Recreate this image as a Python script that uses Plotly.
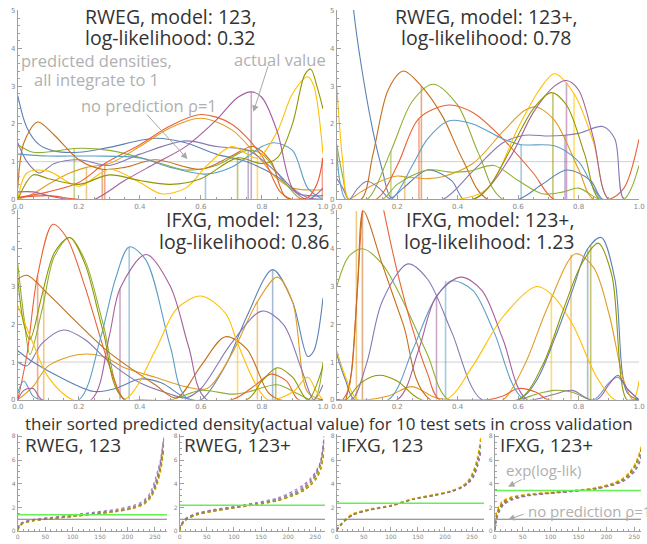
import plotly.graph_objects as go

W, H = 647, 544

PALETTE = ["#5E81B5", "#E19C24", "#8FB032", "#EB6235", "#8778B3", "#C56E1A",
           "#5D9EC7", "#FFBF00", "#A5609D", "#929600", "#E95536"]

# ---------------- predicted densities: RWEG, model 123 ----------------
TL_X = [
    [0, 0.03, 0.07, 0.12, 0.2, 0.3, 0.45, 0.55, 0.65, 0.75, 0.85, 0.92, 1.0],
    [0, 0.05, 0.1, 0.17, 0.225, 0.3, 0.4, 0.5, 0.6, 0.7, 0.78, 0.85, 0.9, 1.0],
    [0, 0.05, 0.12, 0.185, 0.3, 0.45, 0.55, 0.65, 0.75, 0.8, 0.87, 0.93, 1.0],
    [0, 0.1, 0.2, 0.285, 0.4, 0.5, 0.6, 0.7, 0.8, 0.86, 0.9, 1.0],
    [0, 0.03, 0.07, 0.12, 0.2, 0.3, 0.4, 0.55, 0.65, 0.755, 0.85, 0.9, 0.95, 1.0],
    [0, 0.02, 0.065, 0.12, 0.2, 0.277, 0.35, 0.45, 0.6, 0.7, 0.77, 0.83, 0.88, 1.0],
    [0, 0.1, 0.25, 0.4, 0.5, 0.615, 0.7, 0.8, 0.84, 0.9, 0.95, 1.0],
    [0, 0.03, 0.1, 0.2, 0.3, 0.4, 0.47, 0.55, 0.62, 0.7, 0.785, 0.85, 0.9, 0.95, 0.97, 1.0],
    [0, 0.05, 0.1, 0.15, 0.2, 0.25, 0.35, 0.45, 0.55, 0.65, 0.72, 0.765, 0.8, 0.85, 0.9, 0.95, 1.0],
    [0, 0.05, 0.1, 0.2, 0.3, 0.4, 0.5, 0.6, 0.72, 0.8, 0.85, 0.9, 0.94, 0.96, 0.98, 1.0],
    [0, 0.1, 0.2, 0.4, 0.6, 0.8, 0.9, 0.95, 0.98, 1.0],
]
TL_Y = [
    [2.75, 1.9, 1.45, 1.28, 1.25, 1.38, 1.62, 1.5, 1.2, 1.0, 0.6, 0.15, 0.1],
    [0.0, 0.15, 0.4, 0.7, 0.85, 0.95, 1.4, 1.9, 2.15, 1.85, 1.2, 0.55, 0.3, 0.25],
    [1.45, 1.25, 1.28, 1.35, 1.3, 1.0, 0.78, 0.9, 1.3, 1.2, 0.5, 0.0, 0.0],
    [0.05, 0.2, 0.45, 0.95, 1.45, 1.95, 2.25, 2.0, 1.15, 0.2, 0.0, 0.0],
    [1.5, 1.0, 0.7, 0.95, 1.05, 0.9, 1.2, 1.55, 1.4, 1.3, 0.7, 0.3, 0.05, 0.0],
    [0.3, 1.5, 2.05, 1.7, 1.05, 0.8, 0.85, 1.05, 0.8, 1.15, 1.4, 1.0, 0.05, 0.0],
    [1.2, 1.15, 1.15, 1.1, 0.85, 0.67, 0.85, 1.4, 1.5, 1.3, 0.3, 0.0],
    [0.0, 0.7, 0.75, 0.35, 0.8, 0.45, 0.15, 0.3, 0.9, 1.4, 1.1, 1.8, 2.8, 3.25, 3.0, 1.2],
    [0.2, 0.2, 0.1, 0.02, 0.0, 0.0, 0.5, 0.95, 1.4, 2.1, 2.7, 2.85, 2.7, 1.8, 0.3, 0.0, 0.3],
    [0.0, 0.65, 0.55, 0.4, 0.65, 0.5, 0.4, 0.55, 1.1, 0.95, 1.1, 2.0, 3.3, 3.45, 3.0, 2.4],
    [0.05, 0.1, 0.0, 0.0, 0.0, 0.0, 0.0, 0.05, 0.4, 1.1],
]
TL_C = [0, 1, 2, 3, 4, 5, 6, 7, 8, 9, 10]
TL_VX = [0.185, 0.225, 0.277, 0.285, 0.615, 0.72, 0.755, 0.765, 0.785, 0.998]
TL_VH = [1.35, 0.85, 0.8, 0.95, 0.67, 1.1, 1.3, 2.85, 1.1, 1.1]
TL_VC = [2, 1, 5, 3, 6, 9, 4, 8, 7, 10]

# ---------------- RWEG, model 123+ ----------------
TR_X = [
    [0.04, 0.056, 0.08, 0.12, 0.15, 0.18, 0.22, 0.3, 0.38, 0.42, 0.5, 0.6, 0.68, 0.76, 0.84, 0.88, 1.0],
    [0, 0.04, 0.08, 0.15, 0.2, 0.225, 0.3, 0.35, 0.45, 0.55, 0.62, 0.66, 0.72, 0.8, 0.85, 1.0],
    [0, 0.02, 0.04, 0.1, 0.179, 0.25, 0.32, 0.4, 0.47, 0.55, 1.0],
    [0, 0.13, 0.2, 0.272, 0.37, 0.45, 0.55, 0.65, 0.72, 0.9, 0.95, 1.0],
    [0, 0.02, 0.04, 0.07, 0.1, 0.14, 0.18, 0.35, 0.45, 0.55, 0.62, 0.7, 0.755, 0.8, 0.88, 0.92, 0.95, 1.0],
    [0, 0.08, 0.12, 0.17, 0.22, 0.28, 0.35, 0.42, 0.5, 1.0],
    [0, 0.01, 0.03, 0.1, 0.18, 0.25, 0.3, 0.37, 0.45, 0.55, 0.61, 0.72, 0.8, 0.88, 1.0],
    [0, 0.02, 0.04, 0.1, 0.4, 0.5, 0.6, 0.67, 0.72, 0.785, 0.85, 0.9, 1.0],
    [0, 0.45, 0.5, 0.58, 0.65, 0.72, 0.76, 0.8, 0.85, 0.9, 1.0],
    [0, 0.45, 0.5, 0.58, 0.65, 0.71, 0.76, 0.82, 0.87, 1.0],
    [0, 0.15, 0.2, 0.3, 0.38, 0.44, 0.52, 0.6, 0.68, 0.75, 0.8, 0.87, 0.95, 1.0],
]
TR_Y = [
    [6.5, 5.0, 3.6, 1.8, 0.8, 0.05, 0.3, 0.78, 0.5, 0.0, 0.0, 0.0, 0.4, 0.78, 0.5, 0.0, 0.0],
    [0.0, 0.0, 0.2, 0.5, 0.62, 0.6, 0.55, 0.6, 0.95, 1.8, 2.35, 2.45, 2.1, 0.8, 0.0, 0.0],
    [1.45, 0.6, 0.0, 0.0, 1.28, 2.6, 3.05, 2.5, 1.2, 0.0, 0.0],
    [0.0, 0.0, 0.9, 2.15, 2.5, 2.3, 1.6, 0.7, 0.0, 0.0, 0.3, 1.6],
    [0.55, 0.3, 0.0, 0.3, 0.48, 0.3, 0.0, 0.0, 0.75, 1.5, 1.7, 1.68, 1.7, 1.75, 1.93, 1.6, 0.0, 0.0],
    [0.0, 0.0, 1.2, 2.9, 3.4, 3.0, 2.2, 1.0, 0.0, 0.0],
    [1.3, 0.5, 0.0, 0.0, 0.0, 0.9, 1.6, 2.08, 2.0, 1.6, 1.45, 1.42, 1.0, 0.0, 0.0],
    [3.0, 1.0, 0.0, 0.0, 0.0, 0.3, 1.9, 2.9, 3.33, 2.8, 1.5, 0.0, 0.0],
    [0.0, 0.0, 0.3, 1.2, 2.3, 3.0, 3.15, 2.9, 1.6, 0.0, 0.0],
    [0.0, 0.0, 0.3, 1.4, 2.4, 2.83, 2.5, 1.2, 0.0, 0.0],
    [0.0, 0.0, 0.4, 0.78, 0.72, 0.75, 0.9, 0.5, 0.15, 0.2, 0.3, 0.0, 0.0, 0.9],
]
TR_C = [0, 1, 2, 3, 4, 5, 6, 7, 8, 9, 2]
TR_VX = [0.179, 0.225, 0.272, 0.28, 0.61, 0.715, 0.755, 0.76, 0.785]
TR_VH = [1.28, 0.6, 2.15, 3.0, 1.45, 2.8, 1.7, 3.1, 2.8]
TR_VC = [2, 1, 3, 5, 6, 9, 4, 8, 7]

# ---------------- IFXG, model 123 ----------------
ML_X = [
    [0, 0.05, 0.15, 0.25, 0.32, 0.4, 0.47, 0.55, 0.6, 0.68, 0.75, 0.835, 0.9, 0.95, 0.97, 1.0],
    [0, 0.05, 0.1, 0.2, 0.28, 0.35, 0.45, 0.55, 0.62, 0.7, 0.785, 0.85, 0.9, 0.95, 1.0],
    [0, 0.02, 0.04, 0.08, 0.12, 0.17, 0.22, 0.28, 0.35, 0.5, 0.6, 0.7, 0.75, 0.85, 0.92, 0.97, 1.0],
    [0, 0.03, 0.065, 0.115, 0.16, 0.22, 0.3, 0.35, 0.4, 0.7, 0.78, 0.83, 0.88, 0.92, 1.0],
    [0, 0.03, 0.08, 0.15, 0.22, 0.3, 0.4, 0.5, 0.55, 0.6, 0.7, 0.8, 0.87, 0.93, 0.97, 1.0],
    [0, 0.03, 0.1, 0.2, 0.3, 0.45, 0.52, 0.6, 0.68, 0.75, 0.82, 0.86, 1.0],
    [0, 0.02, 0.05, 0.08, 0.2, 0.27, 0.32, 0.365, 0.42, 0.5, 0.56, 1.0],
    [0, 0.05, 0.1, 0.18, 0.35, 0.45, 0.52, 0.6, 0.68, 0.72, 0.78, 0.82, 0.9, 0.95, 0.98, 1.0],
    [0, 0.02, 0.05, 0.08, 0.24, 0.3, 0.335, 0.42, 0.5, 0.56, 0.62, 1.0],
    [0, 0.02, 0.04, 0.08, 0.12, 0.17, 0.22, 0.28, 0.35, 0.75, 0.8, 0.85, 0.9, 0.95, 1.0],
]
ML_Y = [
    [1.3, 1.0, 0.55, 0.22, 0.3, 0.55, 0.45, 0.05, 0.0, 0.9, 2.2, 3.45, 2.6, 1.15, 1.3, 2.7],
    [0.0, 0.35, 0.9, 1.2, 1.15, 0.85, 0.6, 0.35, 0.3, 1.2, 2.6, 3.25, 2.6, 0.2, 0.0],
    [3.6, 2.2, 1.2, 2.4, 3.8, 4.3, 3.7, 2.0, 0.0, 0.0, 0.25, 0.15, 0.2, 0.4, 0.15, 0.0, 1.0],
    [0.0, 1.2, 3.3, 4.65, 4.3, 3.0, 0.9, 0.0, 0.0, 0.0, 0.4, 0.68, 0.5, 0.0, 0.0],
    [1.0, 0.9, 1.5, 1.85, 1.6, 1.0, 0.45, 0.15, 0.05, 0.3, 1.5, 2.35, 2.0, 0.8, 0.0, 0.4],
    [3.2, 3.3, 2.8, 2.0, 1.25, 0.4, 0.05, 0.9, 1.67, 1.35, 0.2, 0.0, 0.0],
    [0.2, 0.5, 0.1, 0.0, 0.0, 1.6, 3.2, 4.05, 3.7, 1.4, 0.0, 0.0],
    [2.5, 1.5, 0.6, 0.0, 0.0, 1.3, 2.4, 2.75, 2.3, 1.5, 0.4, 0.0, 0.2, 0.6, 0.2, 0.0],
    [0.0, 0.25, 0.3, 0.0, 0.0, 1.7, 2.95, 3.85, 3.0, 1.4, 0.0, 0.0],
    [3.2, 2.0, 1.6, 2.8, 3.9, 4.3, 3.6, 1.8, 0.0, 0.0, 0.5, 0.85, 0.6, 0.0, 0.9],
]
ML_C = [0, 1, 2, 3, 4, 5, 6, 7, 8, 9]
ML_VX = [0.065, 0.085, 0.335, 0.365, 0.72, 0.785, 0.835, 0.845]
ML_VH = [3.3, 2.9, 2.95, 4.05, 1.5, 2.6, 3.45, 0.85]
ML_VC = [3, 1, 8, 6, 7, 1, 0, 9]

# ---------------- IFXG, model 123+ ----------------
MR_X = [
    [0, 0.03, 0.06, 0.6, 0.66, 0.72, 0.78, 0.83, 0.875, 0.92, 0.96, 1.0],
    [0, 0.1, 0.17, 0.25, 0.33, 0.5, 0.55, 0.62, 0.7, 0.79, 0.85, 0.9, 0.95, 0.98, 1.0],
    [0, 0.04, 0.085, 0.15, 0.22, 0.3, 0.37, 0.6, 0.66, 0.72, 0.78, 0.84, 1.0],
    [0.02, 0.04, 0.065, 0.088, 0.12, 0.156, 0.2, 0.25, 0.3, 0.34, 0.5, 0.55, 0.6, 0.66, 0.7, 1.0],
    [0, 0.05, 0.1, 0.15, 0.235, 0.3, 0.38, 0.48, 0.65, 0.72, 0.78, 0.84, 1.0],
    [0.03, 0.05, 0.07, 0.088, 0.15, 0.22, 0.31, 1.0],
    [0, 0.17, 0.25, 0.32, 0.38, 0.45, 0.52, 0.62, 0.85, 0.9, 0.93, 0.96, 1.0],
    [0, 0.02, 0.05, 0.07, 0.36, 0.45, 0.55, 0.66, 0.71, 0.78, 0.86, 0.92, 0.98, 1.0],
    [0, 0.2, 0.27, 0.33, 0.41, 0.48, 0.55, 0.63, 0.86, 0.9, 0.93, 0.96, 1.0],
    [0, 0.03, 0.08, 0.14, 0.2, 0.28, 0.6, 0.68, 0.75, 0.81, 0.865, 0.91, 0.96, 1.0],
]
MR_Y = [
    [1.2, 0.5, 0.0, 0.0, 0.5, 1.6, 2.9, 4.0, 4.3, 3.2, 0.2, 0.0],
    [0.0, 0.0, 0.1, 0.35, 0.05, 0.0, 0.0, 0.9, 2.5, 3.87, 3.5, 2.3, 0.5, 0.0, 0.0],
    [3.0, 3.8, 4.0, 3.6, 2.6, 1.2, 0.0, 0.0, 0.15, 0.25, 0.2, 0.0, 0.0],
    [0.0, 0.3, 2.5, 5.2, 6.5, 5.0, 3.4, 1.9, 0.7, 0.0, 0.0, 0.1, 0.3, 0.2, 0.0, 0.0],
    [0.0, 0.0, 1.0, 2.6, 3.6, 3.2, 1.8, 0.0, 0.0, 0.15, 0.25, 0.0, 0.0],
    [0.0, 0.8, 3.2, 5.0, 3.6, 2.0, 0.0, 0.0],
    [0.0, 0.0, 1.3, 2.6, 3.15, 2.9, 1.8, 0.0, 0.0, 0.45, 0.6, 0.3, 0.0],
    [1.3, 0.8, 0.2, 0.0, 0.0, 0.9, 2.2, 3.0, 2.8, 2.0, 0.6, 0.0, 0.0, 0.5],
    [0.0, 0.0, 1.3, 2.75, 3.25, 2.9, 1.6, 0.0, 0.0, 0.4, 0.65, 0.3, 0.0],
    [0.0, 0.0, 0.45, 0.65, 0.5, 0.0, 0.0, 0.9, 2.4, 3.6, 4.15, 3.3, 0.0, 0.0],
]
MR_C = [0, 1, 2, 3, 4, 5, 6, 7, 8, 9]
MR_VX = [0.065, 0.085, 0.33, 0.36, 0.71, 0.775, 0.83, 0.84]
MR_VH = [5.0, 5.0, 2.75, 3.15, 2.8, 3.85, 4.0, 4.1]
MR_VC = [1, 5, 8, 6, 7, 1, 0, 9]

DENS_TITLES = [["RWEG, model: 123,", "log-likelihood: 0.32"],
               ["RWEG, model: 123+,", "log-likelihood: 0.78"],
               ["IFXG, model: 123,", "log-likelihood: 0.86"],
               ["IFXG, model: 123+,", "log-likelihood: 1.23"]]

# ---------------- sorted predicted densities (10 test sets) ----------------
B_X = [0, 3, 8, 15, 30, 60, 100, 140, 180, 210, 230, 242, 252, 260, 266]
B1_Y = [
    [0.1, 0.4, 0.62, 0.75, 0.9, 1.05, 1.25, 1.45, 1.68, 1.95, 2.35, 2.9, 3.9, 5.2, 7.0],
    [0.15, 0.45, 0.65, 0.78, 0.92, 1.07, 1.27, 1.47, 1.7, 1.98, 2.4, 3.0, 4.1, 5.5, 7.4],
    [0.05, 0.35, 0.6, 0.72, 0.88, 1.03, 1.22, 1.42, 1.64, 1.9, 2.25, 2.75, 3.7, 5.0, 6.8],
    [0.2, 0.5, 0.68, 0.8, 0.94, 1.08, 1.28, 1.48, 1.7, 1.97, 2.38, 2.95, 4.0, 5.4, 7.2],
    [0.25, 0.55, 0.72, 0.85, 1.0, 1.15, 1.38, 1.6, 1.85, 2.15, 2.6, 3.3, 4.6, 6.0, 7.9],
    [0.1, 0.42, 0.63, 0.76, 0.9, 1.05, 1.24, 1.44, 1.66, 1.93, 2.3, 2.85, 3.85, 5.3, 7.6],
    [0.12, 0.44, 0.64, 0.77, 0.91, 1.06, 1.26, 1.46, 1.69, 1.96, 2.36, 2.95, 4.2, 5.7, 7.7],
    [0.05, 0.38, 0.6, 0.74, 0.89, 1.04, 1.23, 1.43, 1.65, 1.92, 2.3, 2.8, 3.6, 4.9, 6.5],
    [0.18, 0.5, 0.7, 0.82, 0.97, 1.12, 1.33, 1.55, 1.78, 2.05, 2.5, 3.1, 4.3, 5.8, 7.8],
    [0.08, 0.4, 0.61, 0.74, 0.89, 1.04, 1.24, 1.44, 1.67, 1.94, 2.33, 2.88, 3.8, 5.1, 6.9],
]
B2_Y = [
    [0.05, 0.45, 0.82, 1.08, 1.38, 1.68, 1.97, 2.25, 2.6, 3.1, 3.6, 4.1, 4.8, 5.6, 7.2],
    [0.1, 0.55, 0.9, 1.14, 1.42, 1.72, 2.0, 2.27, 2.62, 3.05, 3.5, 3.95, 4.5, 5.3, 6.8],
    [0.02, 0.4, 0.78, 1.05, 1.35, 1.66, 1.95, 2.22, 2.55, 3.0, 3.45, 3.9, 4.4, 5.2, 6.5],
    [0.08, 0.5, 0.86, 1.1, 1.4, 1.7, 1.98, 2.24, 2.58, 3.08, 3.55, 4.05, 4.7, 5.5, 7.0],
    [0.15, 0.6, 0.95, 1.2, 1.5, 1.8, 2.08, 2.4, 2.8, 3.4, 3.95, 4.5, 5.1, 5.9, 7.6],
    [0.05, 0.48, 0.84, 1.09, 1.39, 1.69, 1.97, 2.25, 2.6, 3.12, 3.62, 4.15, 4.8, 5.7, 7.5],
    [0.06, 0.5, 0.85, 1.1, 1.4, 1.7, 1.99, 2.28, 2.65, 3.15, 3.7, 4.25, 4.9, 5.8, 8.0],
    [0.03, 0.42, 0.8, 1.06, 1.37, 1.67, 1.96, 2.23, 2.57, 3.05, 3.5, 4.0, 4.6, 5.4, 6.9],
    [0.12, 0.55, 0.9, 1.15, 1.45, 1.75, 2.03, 2.33, 2.7, 3.25, 3.8, 4.35, 5.0, 5.9, 7.8],
    [0.04, 0.45, 0.8, 1.05, 1.36, 1.66, 1.95, 2.22, 2.56, 3.02, 3.45, 3.9, 4.45, 5.2, 6.6],
]
B3_Y = [
    [0.05, 0.3, 0.55, 0.9, 1.4, 1.8, 2.15, 2.7, 3.05, 3.35, 3.7, 4.1, 4.8, 5.9, 7.4],
    [0.1, 0.35, 0.62, 0.97, 1.46, 1.85, 2.18, 2.72, 3.08, 3.38, 3.75, 4.2, 5.0, 6.2, 7.8],
    [0.03, 0.25, 0.5, 0.85, 1.35, 1.76, 2.12, 2.68, 3.02, 3.32, 3.66, 4.05, 4.6, 5.6, 7.0],
    [0.06, 0.32, 0.58, 0.92, 1.42, 1.82, 2.16, 2.7, 3.05, 3.36, 3.72, 4.15, 4.9, 6.0, 7.5],
    [0.04, 0.28, 0.54, 0.88, 1.38, 1.78, 2.12, 2.66, 3.0, 3.3, 3.64, 4.0, 4.5, 5.4, 6.6],
    [0.08, 0.33, 0.6, 0.94, 1.44, 1.83, 2.17, 2.71, 3.07, 3.37, 3.73, 4.18, 4.95, 6.1, 7.9],
    [0.05, 0.3, 0.56, 0.9, 1.4, 1.8, 2.14, 2.7, 3.04, 3.34, 3.7, 4.1, 4.75, 5.8, 7.2],
    [0.12, 0.38, 0.65, 1.0, 1.48, 1.87, 2.2, 2.74, 3.1, 3.4, 3.78, 4.25, 5.1, 6.3, 8.0],
    [0.04, 0.27, 0.52, 0.87, 1.37, 1.77, 2.11, 2.67, 3.01, 3.31, 3.65, 4.02, 4.55, 5.5, 6.8],
    [0.07, 0.31, 0.57, 0.91, 1.41, 1.81, 2.15, 2.69, 3.04, 3.35, 3.71, 4.12, 4.85, 5.95, 7.6],
]
B4_Y = [
    [0.1, 1.2, 1.85, 2.35, 2.75, 3.05, 3.22, 3.38, 3.6, 3.95, 4.35, 4.85, 5.5, 6.4, 7.6],
    [0.3, 1.5, 2.1, 2.55, 2.88, 3.12, 3.26, 3.42, 3.65, 4.0, 4.45, 5.0, 5.7, 6.7, 8.0],
    [0.05, 1.0, 1.7, 2.2, 2.65, 3.0, 3.2, 3.36, 3.57, 3.9, 4.25, 4.7, 5.3, 6.1, 7.2],
    [0.15, 1.3, 1.95, 2.42, 2.8, 3.08, 3.24, 3.4, 3.62, 3.97, 4.38, 4.9, 5.6, 6.5, 7.7],
    [0.05, 0.9, 1.6, 2.15, 2.6, 2.98, 3.18, 3.34, 3.55, 3.85, 4.2, 4.6, 5.1, 5.8, 6.8],
    [0.2, 1.4, 2.0, 2.5, 2.85, 3.1, 3.25, 3.41, 3.64, 4.0, 4.42, 4.95, 5.65, 6.6, 7.9],
    [0.1, 1.15, 1.8, 2.3, 2.72, 3.03, 3.21, 3.37, 3.59, 3.93, 4.3, 4.8, 5.45, 6.3, 7.4],
    [0.35, 1.6, 2.2, 2.6, 2.9, 3.14, 3.28, 3.44, 3.67, 4.05, 4.5, 5.05, 5.8, 6.8, 8.1],
    [0.08, 1.05, 1.72, 2.25, 2.68, 3.01, 3.2, 3.36, 3.56, 3.88, 4.22, 4.65, 5.2, 5.9, 7.0],
    [0.12, 1.25, 1.9, 2.38, 2.78, 3.06, 3.23, 3.39, 3.61, 3.96, 4.36, 4.88, 5.55, 6.45, 7.6],
]
EXP_LOGLIK = [1.38, 2.18, 2.36, 3.42]
SORT_TITLES = ["RWEG, 123", "RWEG, 123+", "IFXG, 123", "IFXG, 123+"]
MAIN_TITLE = "their sorted predicted density(actual value) for 10 test sets in cross validation"

FONT = "Open Sans"
AX = "#A0A0A0"
TXT = "#333333"
NOTE = "#B0B0B0"


def px(x):
    return x / W


def py(y):
    return 1 - y / H


fig = go.Figure()

dens_panels = [
    ("x", "y", (12, 323), (199, 7), TL_X, TL_Y, TL_C, TL_VX, TL_VH, TL_VC),
    ("x2", "y2", (337, 645), (199, 7), TR_X, TR_Y, TR_C, TR_VX, TR_VH, TR_VC),
    ("x3", "y3", (12, 323), (402, 210), ML_X, ML_Y, ML_C, ML_VX, ML_VH, ML_VC),
    ("x4", "y4", (337, 645), (402, 210), MR_X, MR_Y, MR_C, MR_VX, MR_VH, MR_VC),
]
sort_panels = [
    ("x5", "y5", (12, 164), 272, B1_Y),
    ("x6", "y6", (177, 325), 268, B2_Y),
    ("x7", "y7", (337, 487), 272, B3_Y),
    ("x8", "y8", (498, 647), 262, B4_Y),
]

layout = dict(width=W, height=H, margin=dict(l=0, r=0, t=0, b=0),
              paper_bgcolor="white", plot_bgcolor="rgba(0,0,0,0)",
              showlegend=False, font=dict(family=FONT, color=TXT))

TICKFONT = dict(size=7, color="#888888", family="DejaVu Sans")
common = dict(showline=True, linecolor=AX, linewidth=1, ticks="inside", ticklen=4,
              tickcolor=AX, showgrid=False, zeroline=False, fixedrange=True,
              tickfont=TICKFONT)


def axname(a):
    if a == "x":
        return "xaxis"
    if a == "y":
        return "yaxis"
    return ("xaxis" if a[0] == "x" else "yaxis") + a[1:]


for xa, ya, (x0, x1), (yb, yt), XS, YS, CS, VX, VH, VC in dens_panels:
    layout[axname(xa)] = dict(common, domain=[px(x0), px(x1)], range=[0, 1], anchor=ya,
                              tick0=0, dtick=0.2, tickformat=".1f",
                              minor=dict(ticks="inside", ticklen=2, dtick=0.05, tickcolor=AX))
    layout[axname(ya)] = dict(common, domain=[py(yb), py(yt)], range=[0, 5.02], anchor=xa,
                              tick0=0, dtick=1,
                              minor=dict(ticks="inside", ticklen=2, dtick=0.2, tickcolor=AX))
    fig.add_trace(go.Scatter(x=[0, 1], y=[1, 1], mode="lines", xaxis=xa, yaxis=ya,
                             line=dict(color="#D0D0D0", width=1), hoverinfo="skip"))
    for vx, vh, vc in zip(VX, VH, VC):
        fig.add_trace(go.Scatter(x=[vx, vx], y=[0, vh], mode="lines", xaxis=xa, yaxis=ya,
                                 line=dict(color=PALETTE[vc], width=1.6), opacity=0.55,
                                 hoverinfo="skip"))
    for xs, ys, c in zip(XS, YS, CS):
        fig.add_trace(go.Scatter(x=xs, y=ys, mode="lines", xaxis=xa, yaxis=ya,
                                 line=dict(color=PALETTE[c], width=1.1, shape="spline", smoothing=0.9),
                                 hoverinfo="skip"))

SMALLFONT = dict(size=6, color="#888888", family="DejaVu Sans")
for i, (xa, ya, (x0, x1), xmax, SETS) in enumerate(sort_panels):
    layout[axname(xa)] = dict(common, domain=[px(x0), px(x1)], range=[0, xmax], anchor=ya,
                              tick0=0, dtick=50, tickfont=SMALLFONT,
                              minor=dict(ticks="inside", ticklen=2, dtick=10, tickcolor=AX))
    layout[axname(ya)] = dict(common, domain=[py(535), py(436.6)], range=[0, 8.2], anchor=xa,
                              tick0=0, dtick=2, tickfont=SMALLFONT,
                              minor=dict(ticks="inside", ticklen=2, dtick=0.5, tickcolor=AX))
    for k, ys in enumerate(SETS):
        fig.add_trace(go.Scatter(x=B_X, y=ys, mode="lines", xaxis=xa, yaxis=ya,
                                 line=dict(color=PALETTE[k], width=1.1, dash="dot", shape="spline", smoothing=0.8),
                                 opacity=0.9, hoverinfo="skip"))
    fig.add_trace(go.Scatter(x=[0, xmax], y=[1, 1], mode="lines", xaxis=xa, yaxis=ya,
                             line=dict(color="#7A7A7A", width=1.2), hoverinfo="skip"))
    fig.add_trace(go.Scatter(x=[0, xmax], y=[EXP_LOGLIK[i], EXP_LOGLIK[i]], mode="lines", xaxis=xa, yaxis=ya,
                             line=dict(color="#66EE55", width=1.5), hoverinfo="skip"))

ann = []
title_pos = [(168, 14, 35), (490, 14, 35), (243, 219, 242), (493, 219, 242)]
for (cx, y1, y2), (l1, l2) in zip(title_pos, DENS_TITLES):
    for yy, t in ((y1, l1), (y2, l2)):
        ann.append(dict(text=t, x=px(cx), y=py(yy), xref="paper", yref="paper", showarrow=False,
                        xanchor="center", yanchor="middle", font=dict(size=19.5, color=TXT, family=FONT)))

ann.append(dict(text=MAIN_TITLE, x=px(329), y=py(426), xref="paper", yref="paper", showarrow=False,
                xanchor="center", yanchor="middle", font=dict(size=17, color=TXT, family=FONT)))
for (lx, t) in zip([17, 179, 339, 501], SORT_TITLES):
    ann.append(dict(text=t, x=px(lx), y=py(448), xref="paper", yref="paper", showarrow=False,
                    xanchor="left", yanchor="middle", font=dict(size=19, color=TXT, family=FONT)))

for t, cx, cy in [("predicted densities,", 92, 58), ("all integrate to 1", 92, 78),
                  ("actual value", 279, 57), ("no prediction \u03c1=1", 146, 104)]:
    ann.append(dict(text=t, x=px(cx), y=py(cy), xref="paper", yref="paper", showarrow=False,
                    xanchor="center", yanchor="middle", font=dict(size=16.5, color=NOTE, family=FONT)))
ann.append(dict(text="exp(log-lik)", x=px(548), y=py(473), xref="paper", yref="paper", showarrow=False,
                xanchor="center", yanchor="middle", font=dict(size=15, color=NOTE, family=FONT)))
ann.append(dict(text="no prediction \u03c1=1", x=px(530), y=py(515), xref="paper", yref="paper", showarrow=False,
                xanchor="left", yanchor="middle", font=dict(size=15, color=NOTE, family=FONT)))

for xr, yr, hx, hy, dx, dy in [("x", "y", 0.556, 1.07, -42, -46), ("x", "y", 0.772, 2.32, 15, -47),
                               ("x8", "y8", 24, 3.75, 15, -8), ("x8", "y8", 24, 0.97, 17, -6)]:
    ann.append(dict(text="", x=hx, y=hy, xref=xr, yref=yr, ax=dx, ay=dy, showarrow=True,
                    arrowhead=2, arrowsize=1.3, arrowwidth=1, arrowcolor="#A8A8A8"))

layout["annotations"] = ann
fig.update_layout(**layout)
# remove the browser's default 8px body margin so the figure fills the window exactly
fig.write_html("out.html", config={"displayModeBar": False, "staticPlot": True},
               post_script="document.body.style.margin='0';document.body.style.padding='0';document.body.style.overflow='hidden';")
